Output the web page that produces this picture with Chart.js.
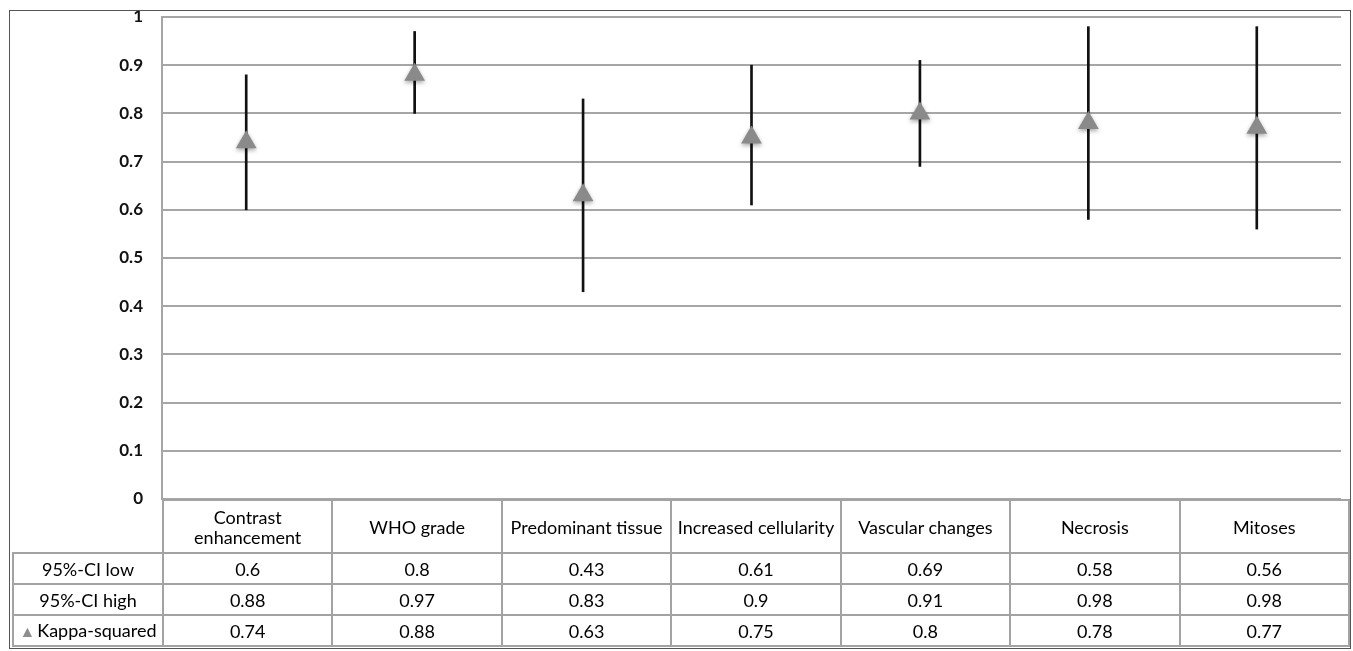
<!DOCTYPE html>
<html>
<head>
<meta charset="utf-8">
<script src="https://cdn.jsdelivr.net/npm/chart.js@4.4.1/dist/chart.umd.min.js"></script>
<style>
  body { margin: 0; background: #fff; font-family: Lato, 'Open Sans', sans-serif; }
  #wrap { position: relative; width: 1353px; height: 651px; }
  #frame { position: absolute; left: 9px; top: 10px; width: 1342px; height: 639px; border: 1px solid #555; box-sizing: border-box; pointer-events: none; }
  canvas { position: absolute; left: 0; top: 0; }
  table { position: absolute; left: 12px; top: 499px; border-collapse: collapse; table-layout: fixed; width: 1338px; font-size: 18px; color: #000; }
  td { border: 2px solid #a3a3a3; text-align: center; padding: 0; line-height: 20px; }
  tr.head td { height: 51px; }
  tr.row td { height: 29px; }
  td.blank { border-top: none; border-left: none; }
  .tri { color: #8e8e8e; font-size: 16px; margin-right: 2px; }
</style>
</head>
<body>
<div id="wrap">
  <canvas id="kappaChart" width="1353" height="651"></canvas>
  <table id="dataTable"></table>
  <div id="frame"></div>
</div>
<script>
const categories = ['Contrast enhancement', 'WHO grade', 'Predominant tissue', 'Increased cellularity', 'Vascular changes', 'Necrosis', 'Mitoses']
const ciLow = [0.6, 0.8, 0.43, 0.61, 0.69, 0.58, 0.56]
const ciHigh = [0.88, 0.97, 0.83, 0.9, 0.91, 0.98, 0.98]
const kappaSq = [0.74, 0.88, 0.63, 0.75, 0.8, 0.78, 0.77]
const yTicks = [0, 0.1, 0.2, 0.3, 0.4, 0.5, 0.6, 0.7, 0.8, 0.9, 1]

// table under the plot
const table = document.getElementById('dataTable')
let html = '<colgroup><col style="width:150px">'
categories.forEach(() => { html += '<col>' })
html += '</colgroup>'
html += '<tr class="head"><td class="blank"></td>'
categories.forEach(c => {
    const label = c === 'Contrast enhancement' ? 'Contrast<br>enhancement' : c
    html += '<td>' + label + '</td>'
})
html += '</tr>'
const rows = [
    ['95%-CI low', ciLow],
    ['95%-CI high', ciHigh],
    ['<span class="tri">&#9650;</span>Kappa-squared', kappaSq]
]
rows.forEach(r => {
    html += '<tr class="row"><td>' + r[0] + '</td>'
    r[1].forEach(v => { html += '<td>' + v + '</td>' })
    html += '</tr>'
})
table.innerHTML = html

const shadowPlugin = {
    id: 'markerShadow',
    beforeDatasetDraw(chart, args) {
        if (args.index === 1) {
            const ctx = chart.ctx
            ctx.save()
            ctx.shadowColor = 'rgba(0,0,0,0.35)'
            ctx.shadowBlur = 4
            ctx.shadowOffsetY = 2
        }
    },
    afterDatasetDraw(chart, args) {
        if (args.index === 1) chart.ctx.restore()
    }
}

const ctx = document.getElementById('kappaChart').getContext('2d')
const myChart = new Chart(ctx, {
    type: 'bar',
    data: {
        labels: categories,
        datasets: [
            {
                label: '95%-CI',
                data: ciLow.map((lo, i) => [lo, ciHigh[i]]),
                backgroundColor: '#111',
                barThickness: 2,
                order: 2
            },
            {
                type: 'line',
                label: 'Kappa-squared',
                data: kappaSq,
                showLine: false,
                pointStyle: 'triangle',
                pointRadius: 12,
                pointBackgroundColor: '#8a8a8a',
                pointBorderColor: '#8a8a8a',
                pointBorderWidth: 0,
                order: 1
            }
        ]
    },
    options: {
        responsive: false,
        animation: false,
        layout: { padding: { top: 17, right: 4, bottom: 152, left: 0 } },
        scales: {
            x: { display: false, offset: true },
            y: {
                min: 0, max: 1,
                afterBuildTicks: s => { s.ticks = yTicks.map(v => ({ value: v })) },
                afterFit: s => { s.width = 162 },
                grid: { color: '#a6a6a6', lineWidth: 2, drawTicks: true, tickLength: 19, tickColor: 'rgba(0,0,0,0)' },
                border: { color: '#a6a6a6', width: 2 },
                ticks: {
                    padding: 0,
                    color: '#111',
                    font: { family: 'Lato', size: 17, weight: 'bold' },
                    callback: v => String(Math.round(v * 10) / 10)
                }
            }
        },
        plugins: { legend: { display: false }, tooltip: { enabled: false } }
    },
    plugins: [shadowPlugin]
})
</script>
</body>
</html>
